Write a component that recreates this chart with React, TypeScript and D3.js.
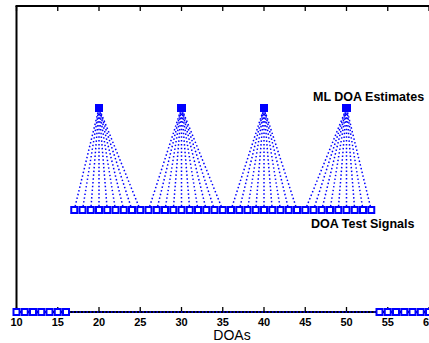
import * as d3 from "d3";

// DOA test signals (degrees) and the ML estimate each one resolved to
const testDoas = [17, 18, 19, 20, 21, 22, 23, 24, 25, 26, 27, 28, 29, 30, 31, 32, 33, 34, 35, 36, 37, 38, 39, 40, 41, 42, 43, 44, 45, 46, 47, 48, 49, 50, 51, 52, 53];
const mlEstimates = [20, 20, 20, 20, 20, 20, 20, 20, 20, 30, 30, 30, 30, 30, 30, 30, 30, 30, 30, 40, 40, 40, 40, 40, 40, 40, 40, 40, 50, 50, 50, 50, 50, 50, 50, 50, 50];
// points sitting on the baseline
const zeroDoas = [10, 11, 12, 13, 14, 15, 16, 54, 55, 56, 57, 58, 59, 60];
const xTicks = [10, 15, 20, 25, 30, 35, 40, 45, 50, 55, 60];

const W = 429;
const H = 343;
const BLUE = "#0000ff";

export default function App() {
  const x = d3.scaleLinear().domain([10, 60]).range([16.5, 429]);
  const y = d3.scaleLinear().domain([0, 3]).range([312, 6]);

  const line = d3.line<[number, number]>().x((d) => x(d[0])).y((d) => y(d[1]));

  const marker = (cx: number, cy: number, key: string, fill = "#fff") => (
    <rect key={key} x={cx - 3} y={cy - 3} width={6} height={6}
      fill={fill} stroke={BLUE} strokeWidth={2} />
  );

  return (
    <>
      <style>{"body{margin:0}"}</style>
      <svg width={W} height={H} style={{ display: "block" }} fontFamily="'Liberation Sans', Arial, sans-serif">
        <rect width={W} height={H} fill="#fff" />

        {/* axes box */}
        <line x1={x(10)} x2={x(10)} y1={y(3)} y2={y(0)} stroke="#000" strokeWidth={2} />
        <line x1={x(10) - 1} x2={W} y1={y(3)} y2={y(3)} stroke="#000" strokeWidth={2} />
        <line x1={x(10)} x2={W} y1={y(0)} y2={y(0)} stroke="#000" strokeWidth={2} />
        {xTicks.map((t) => (
          <g key={"t" + t}>
            <line x1={x(t)} x2={x(t)} y1={y(0)} y2={y(0) - 5} stroke="#000" strokeWidth={1.3} />
            <line x1={x(t)} x2={x(t)} y1={y(3)} y2={y(3) + 5} stroke="#000" strokeWidth={1.3} />
            <text x={x(t)} y={y(0) + 14} textAnchor="middle" fontSize={11} fontWeight="bold">{t}</text>
          </g>
        ))}

        {/* baseline dotted line */}
        <path d={line([[10, 0], [60, 0]]) ?? ""} stroke={BLUE} strokeWidth={1.6} strokeDasharray="1.5,2" fill="none" />

        {/* test signal -> estimate links */}
        {testDoas.map((d, i) => (
          <path key={"l" + i} d={line([[d, 1], [mlEstimates[i], 2]]) ?? ""}
            stroke={BLUE} strokeWidth={1.5} strokeDasharray="1.5,2.3" fill="none" />
        ))}
        {testDoas.map((d, i) => marker(x(d), y(1), "m" + i))}
        {mlEstimates.map((d, i) => marker(x(d), y(2), "e" + i, BLUE))}
        {zeroDoas.map((d, i) => marker(x(d), y(0), "z" + i))}

        <text x={313} y={101} fontSize={12.5} fontWeight="bold">ML DOA Estimates</text>
        <text x={311} y={228} fontSize={12.5} fontWeight="bold">DOA Test Signals</text>
        <text x={232} y={340} textAnchor="middle" fontSize={14}>DOAs</text>
      </svg>
    </>
  );
}
